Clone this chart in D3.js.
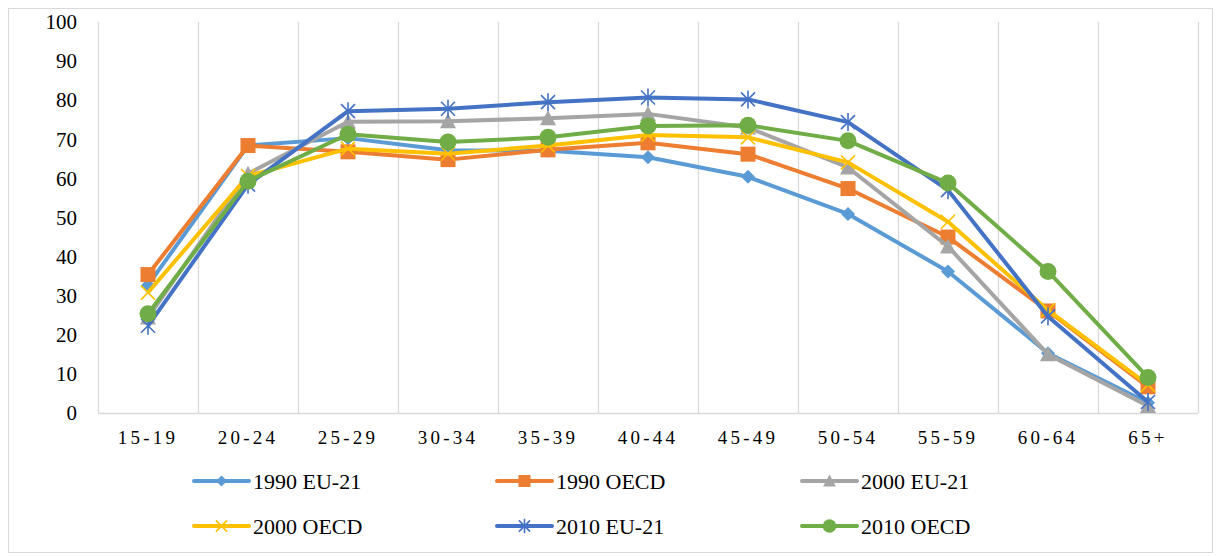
<!DOCTYPE html>
<html>
<head>
<meta charset="utf-8">
<script src="https://cdn.jsdelivr.net/npm/d3@7"></script>
<style>
  body { margin: 0; background: #fff; }
  svg { display: block; font-family: "Liberation Serif", "Times New Roman", serif; }
</style>
</head>
<body>
<svg id="chart" width="1218" height="556"></svg>
<script>
const categories = ["15-19", "20-24", "25-29", "30-34", "35-39", "40-44", "45-49", "50-54", "55-59", "60-64", "65+"];
const seriesNames = ["1990 EU-21", "1990 OECD", "2000 EU-21", "2000 OECD", "2010 EU-21", "2010 OECD"];
const eu1990 = [32.7, 68.4, 70.3, 67.2, 67.1, 65.4, 60.4, 50.9, 36.2, 15.3, 2.6];
const oecd1990 = [35.4, 68.4, 66.8, 64.8, 67.3, 69.1, 66.2, 57.4, 45.0, 26.1, 6.7];
const eu2000 = [24.4, 61.2, 74.5, 74.6, 75.4, 76.5, 73.0, 62.8, 42.6, 15.0, 1.8];
const oecd2000 = [30.8, 60.6, 67.6, 66.3, 68.4, 71.1, 70.5, 64.1, 48.9, 26.3, 7.2];
const eu2010 = [22.3, 58.4, 77.2, 77.8, 79.5, 80.7, 80.2, 74.4, 57.0, 24.7, 2.8];
const oecd2010 = [25.4, 59.3, 71.3, 69.3, 70.5, 73.4, 73.6, 69.6, 58.8, 36.2, 9.1];
const yTicks = [0, 10, 20, 30, 40, 50, 60, 70, 80, 90, 100];

const colors = ["#5B9BD5", "#ED7D31", "#A5A5A5", "#FFC000", "#4472C4", "#70AD47"];
const markers = ["diamond", "square", "triangle", "x", "star", "circle"];
const values = [eu1990, oecd1990, eu2000, oecd2000, eu2010, oecd2010];

const svg = d3.select("#chart");
const margin = { left: 98, right: 1198, top: 22, bottom: 413 };

// outer frame
svg.append("rect")
  .attr("x", 8.5).attr("y", 8.5).attr("width", 1204).attr("height", 544)
  .attr("fill", "none").attr("stroke", "#d9d9d9");

const x = d3.scaleBand().domain(categories).range([margin.left, margin.right]);
const y = d3.scaleLinear().domain([0, 100]).range([margin.bottom, margin.top]);

// vertical gridlines at category boundaries
const bounds = categories.map(c => x(c)).concat([x.range()[1]]);
svg.append("g").selectAll("line").data(bounds).join("line")
  .attr("x1", d => d + 0.5).attr("x2", d => d + 0.5)
  .attr("y1", y(100)).attr("y2", y(0))
  .attr("stroke", "#d9d9d9").attr("stroke-width", 1.3);

svg.append("line")
  .attr("x1", margin.left).attr("x2", margin.right)
  .attr("y1", y(0) + 0.5).attr("y2", y(0) + 0.5)
  .attr("stroke", "#d9d9d9").attr("stroke-width", 1.3);

// y axis labels
const yAxis = svg.append("g")
  .attr("transform", "translate(" + (margin.left - 11) + ",0)")
  .call(d3.axisLeft(y).tickValues(yTicks).tickSize(0).tickPadding(10));
yAxis.select(".domain").remove();
yAxis.selectAll("text")
  .attr("font-family", "Liberation Serif").attr("font-size", 21).attr("fill", "#000");

// x axis labels
const xAxis = svg.append("g")
  .attr("transform", "translate(0," + y(0) + ")")
  .call(d3.axisBottom(x).tickSize(0).tickPadding(18));
xAxis.select(".domain").remove();
xAxis.selectAll("text")
  .attr("font-family", "Liberation Serif").attr("font-size", 19)
  .attr("letter-spacing", "3.2px").attr("fill", "#000");

function drawMarker(g, type, color, k) {
  k = k || 1;
  if (type === "diamond") {
    g.append("path").attr("d", `M0,${-7 * k}L${7 * k},0L0,${7 * k}L${-7 * k},0Z`).attr("fill", color);
  } else if (type === "square") {
    g.append("rect").attr("x", -7.5 * k).attr("y", -7.5 * k).attr("width", 15 * k).attr("height", 15 * k).attr("fill", color);
  } else if (type === "triangle") {
    g.append("path").attr("d", `M0,${-8 * k}L${8 * k},${7 * k}L${-8 * k},${7 * k}Z`).attr("fill", color);
  } else if (type === "x") {
    g.append("path").attr("d", `M${-7 * k},${-7 * k}L${7 * k},${7 * k}M${-7 * k},${7 * k}L${7 * k},${-7 * k}`)
      .attr("stroke", color).attr("stroke-width", 1.6).attr("fill", "none");
  } else if (type === "star") {
    g.append("path").attr("d", `M${-7 * k},${-7 * k}L${7 * k},${7 * k}M${-7 * k},${7 * k}L${7 * k},${-7 * k}M0,${-9 * k}L0,${9 * k}`)
      .attr("stroke", color).attr("stroke-width", 1.6).attr("fill", "none");
  } else if (type === "circle") {
    g.append("circle").attr("r", 8.5 * k).attr("fill", color);
  }
}

const line = d3.line()
  .x((d, i) => x(categories[i]) + x.bandwidth() / 2)
  .y(d => y(d));

values.forEach((vals, s) => {
  const g = svg.append("g");
  g.append("path").datum(vals)
    .attr("d", line)
    .attr("fill", "none").attr("stroke", colors[s])
    .attr("stroke-width", 4).attr("stroke-linejoin", "round");
  vals.forEach((v, i) => {
    const m = g.append("g")
      .attr("transform", "translate(" + (x(categories[i]) + x.bandwidth() / 2) + "," + y(v) + ")");
    drawMarker(m, markers[s], colors[s]);
  });
});

// legend
const legendCols = [194, 497, 802];
const legendRows = [481, 526];
seriesNames.forEach((name, s) => {
  const lx = legendCols[s % 3];
  const ly = legendRows[Math.floor(s / 3)];
  const g = svg.append("g").attr("transform", "translate(" + lx + "," + ly + ")");
  g.append("line").attr("x1", 0).attr("x2", 55).attr("y1", 0).attr("y2", 0)
    .attr("stroke", colors[s]).attr("stroke-width", 4).attr("stroke-linecap", "round");
  const m = g.append("g").attr("transform", "translate(27.5,0)");
  drawMarker(m, markers[s], colors[s], 0.8);
  g.append("text").attr("x", 59).attr("y", 7.5)
    .attr("font-size", 22).attr("fill", "#000").text(name);
});
</script>
</body>
</html>
